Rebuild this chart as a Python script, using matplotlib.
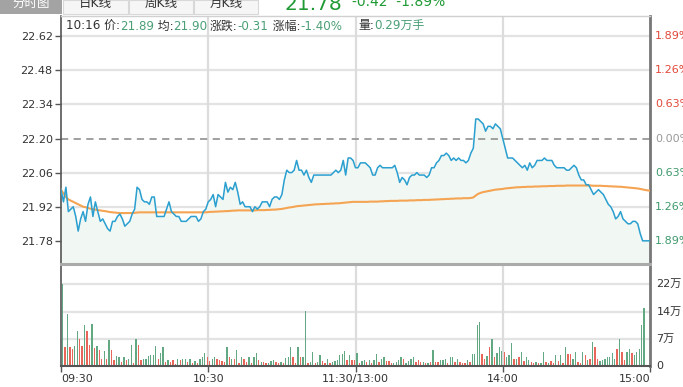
import numpy as np
import matplotlib
matplotlib.use("Agg")
import matplotlib.pyplot as plt
from matplotlib.patches import Rectangle

plt.rcParams['font.family'] = ['DejaVu Sans', 'Noto Sans CJK SC']

W, H = 683, 387
PREV_CLOSE = 22.20

# minute prices 09:30 .. 15:00 (241 points)
price = [
    21.99, 21.94, 22.00, 21.90, 21.91, 21.92, 21.88, 21.82, 21.87, 21.90,
    21.86, 21.93, 21.96, 21.88, 21.94, 21.90, 21.86, 21.87, 21.85, 21.83,
    21.82, 21.86, 21.86, 21.88, 21.89, 21.87, 21.84, 21.85, 21.86, 21.89,
    21.91, 22.00, 21.99, 21.95, 21.94, 21.94, 21.93, 21.96, 21.96, 21.88,
    21.88, 21.88, 21.88, 21.91, 21.94, 21.90, 21.89, 21.88, 21.88, 21.86,
    21.86, 21.86, 21.87, 21.88, 21.88, 21.88, 21.86, 21.87, 21.90, 21.91,
    21.94, 21.95, 21.97, 21.92, 21.97, 21.96, 21.95, 22.02, 21.98, 22.00,
    21.99, 22.02, 21.98, 21.93, 21.94, 21.92, 21.92, 21.92, 21.90, 21.92,
    21.91, 21.92, 21.94, 21.94, 21.94, 21.92, 21.95, 21.96, 21.96, 21.95,
    21.97, 22.03, 22.07, 22.06, 22.06, 22.07, 22.11, 22.07, 22.07, 22.05,
    22.07, 22.04, 22.02, 22.05, 22.05, 22.05, 22.05, 22.05, 22.05, 22.05,
    22.05, 22.06, 22.07, 22.06, 22.07, 22.11, 22.05, 22.12, 22.12, 22.11,
    22.08, 22.08, 22.10, 22.10, 22.10, 22.09, 22.08, 22.05, 22.05, 22.08,
    22.09, 22.08, 22.08, 22.08, 22.08, 22.08, 22.09, 22.06, 22.02, 22.04,
    22.03, 22.01, 22.04, 22.05, 22.05, 22.06, 22.05, 22.05, 22.05, 22.04,
    22.05, 22.08, 22.08, 22.10, 22.11, 22.13, 22.13, 22.14, 22.13, 22.11,
    22.12, 22.11, 22.12, 22.11, 22.11, 22.10, 22.11, 22.14, 22.16, 22.28,
    22.28, 22.27, 22.26, 22.23, 22.25, 22.25, 22.24, 22.26, 22.25, 22.24,
    22.20, 22.16, 22.12, 22.12, 22.12, 22.11, 22.10, 22.09, 22.08, 22.09,
    22.07, 22.10, 22.08, 22.09, 22.11, 22.11, 22.11, 22.12, 22.11, 22.11,
    22.11, 22.09, 22.08, 22.08, 22.08, 22.08, 22.07, 22.07, 22.08, 22.09,
    22.08, 22.05, 22.03, 22.03, 22.01, 22.01, 21.99, 21.97, 21.98, 21.99,
    21.98, 21.97, 21.95, 21.93, 21.92, 21.90, 21.87, 21.88, 21.90, 21.87,
    21.86, 21.85, 21.85, 21.86, 21.86, 21.85, 21.81, 21.78, 21.78, 21.78,
    21.78,
]

avg_price = [
    21.990, 21.975, 21.960, 21.950, 21.945, 21.940, 21.935, 21.930, 21.925, 21.920,
    21.918, 21.915, 21.912, 21.910, 21.908, 21.906, 21.905, 21.903, 21.902, 21.900,
    21.898, 21.897, 21.896, 21.895, 21.894, 21.894, 21.894, 21.894, 21.894, 21.894,
    21.895, 21.896, 21.897, 21.897, 21.897, 21.897, 21.897, 21.897, 21.897, 21.897,
    21.897, 21.897, 21.897, 21.897, 21.897, 21.897, 21.897, 21.897, 21.897, 21.897,
    21.897, 21.897, 21.897, 21.897, 21.897, 21.897, 21.897, 21.897, 21.897, 21.897,
    21.898, 21.899, 21.899, 21.900, 21.900, 21.901, 21.901, 21.902, 21.902, 21.903,
    21.904, 21.904, 21.905, 21.905, 21.905, 21.905, 21.905, 21.905, 21.905, 21.905,
    21.906, 21.906, 21.906, 21.906, 21.907, 21.907, 21.908, 21.908, 21.909, 21.910,
    21.911, 21.913, 21.915, 21.917, 21.918, 21.920, 21.922, 21.923, 21.924, 21.925,
    21.926, 21.927, 21.928, 21.929, 21.930, 21.930, 21.931, 21.931, 21.932, 21.932,
    21.933, 21.933, 21.934, 21.934, 21.935, 21.936, 21.937, 21.938, 21.939, 21.940,
    21.940, 21.940, 21.940, 21.940, 21.940, 21.940, 21.941, 21.941, 21.941, 21.941,
    21.942, 21.942, 21.943, 21.943, 21.944, 21.944, 21.944, 21.944, 21.945, 21.945,
    21.945, 21.945, 21.946, 21.946, 21.946, 21.947, 21.947, 21.947, 21.948, 21.948,
    21.948, 21.949, 21.949, 21.950, 21.950, 21.951, 21.951, 21.952, 21.952, 21.953,
    21.953, 21.954, 21.954, 21.954, 21.955, 21.955, 21.955, 21.956, 21.958, 21.966,
    21.973, 21.977, 21.980, 21.982, 21.984, 21.986, 21.988, 21.990, 21.991, 21.992,
    21.993, 21.995, 21.996, 21.997, 21.998, 21.999, 22.000, 22.000, 22.001, 22.001,
    22.002, 22.002, 22.002, 22.003, 22.003, 22.003, 22.004, 22.004, 22.004, 22.005,
    22.005, 22.005, 22.006, 22.006, 22.006, 22.006, 22.007, 22.007, 22.007, 22.007,
    22.007, 22.007, 22.007, 22.007, 22.007, 22.007, 22.007, 22.006, 22.006, 22.006,
    22.006, 22.005, 22.005, 22.004, 22.004, 22.003, 22.003, 22.002, 22.002, 22.001,
    22.000, 21.999, 21.998, 21.997, 21.996, 21.995, 21.993, 21.991, 21.989, 21.987,
    21.986,
]

# volume per minute, in 万 shares
volume = [
    22.0, 5.0, 13.9, 5.0, 4.7, 5.4, 9.3, 7.2, 5.4, 11.0,
    9.4, 5.6, 11.3, 4.9, 5.4, 4.3, 1.8, 4.0, 1.8, 7.0,
    4.3, 1.6, 2.7, 2.3, 1.2, 2.3, 1.6, 1.8, 5.6, 0.7,
    7.4, 5.6, 1.6, 1.8, 1.8, 2.7, 2.9, 2.9, 5.4, 2.0,
    3.4, 5.0, 1.2, 1.6, 1.2, 1.6, 0.5, 1.8, 1.6, 2.0,
    2.0, 1.2, 1.8, 0.7, 1.4, 0.7, 2.0, 2.5, 3.6, 2.3,
    1.3, 2.0, 2.5, 1.8, 1.6, 1.4, 1.2, 5.0, 2.3, 2.0,
    1.8, 4.3, 0.9, 2.5, 1.8, 1.2, 2.3, 0.9, 2.5, 3.4,
    1.6, 1.2, 1.2, 0.7, 0.9, 1.4, 1.6, 1.2, 0.7, 1.2,
    0.7, 2.2, 2.5, 5.0, 2.3, 0.7, 5.0, 2.3, 2.3, 14.8,
    0.7, 1.2, 3.7, 0.9, 1.2, 2.9, 1.4, 0.7, 2.0, 0.7,
    1.2,
    1.4, 1.6, 2.9, 3.2, 4.1, 1.6, 2.9, 1.6, 1.6, 3.4,
    0.9, 1.4, 1.6, 1.2, 1.6, 0.9, 1.6, 3.2, 1.2, 1.8,
    2.3, 1.4, 1.4, 0.7, 0.9, 1.2, 1.6, 2.3, 1.8, 0.9,
    1.4, 1.8, 2.3, 1.2, 1.6, 1.2, 1.2, 0.7, 0.7, 1.2,
    4.3, 1.2, 1.2, 1.6, 1.6, 2.0, 0.7, 2.3, 2.5, 1.2,
    1.8, 1.2, 0.7, 0.7, 1.6, 1.2, 3.2, 3.2, 11.0,
    11.9, 3.2, 2.0, 2.7, 5.0, 7.4, 2.5, 3.4, 5.0, 4.1,
    3.8, 2.3, 2.9, 6.3, 1.8, 2.0, 2.3, 3.8, 1.4, 2.5,
    1.6, 1.2, 0.9, 1.2, 0.9, 0.9, 3.8, 1.2, 0.9, 1.4,
    0.7, 2.9, 1.4, 2.9, 0.7, 5.0, 3.2, 3.2, 2.0, 3.8,
    1.2, 0.7, 3.8, 2.9, 1.6, 2.0, 6.5, 5.0, 2.0, 1.4,
    1.6, 2.0, 2.3, 2.3, 3.6,
    2.0, 4.7, 7.4, 3.8, 1.6, 3.8, 4.5, 3.4, 2.9, 3.8, 4.5,
    11.0, 15.5, 0.3, 0.3, 13.0,
]

# r = up bar, g = down bar
vol_dir = (
    "grgrrggrrg" "rrgrgrrgrg" "rrggrgrggr" "grrggggggr" "ggrgrrrgrg"
    "grgrgrgggr" "rggrrrrgrg" "rgrgrrgrgg" "rgrrgggrrg" "rgggrrgrgg"
    "rggrggrrgr" "g"
    "gggggrgrrg" "rggrgrggrg" "grrrggggrg" "gggrrrgrgr"
    "grrgggrggrgrrrgrggg" "grrgrgrggg" "rgggrgrgrg" "grrgrggrgr"
    "rgrgrgrrgg" "rrgrgrgrrg" "ggggg" "grgr" "rggrggg" "ggrrg"
)

price_ticks = [22.62, 22.48, 22.34, 22.20, 22.06, 21.92, 21.78]
time_ticks = [0, 60, 120, 180, 240]
time_labels = ['09:30', '10:30', '11:30/13:00', '14:00', '15:00']
vol_ticks = [0, 7.33, 14.67, 22.0]
vol_labels = ['0', '7万', '14万', '22万']

DARK = '#333333'
AXIS = '#555555'
GRID = '#e3e3e3'
UP = '#e2483a'
DOWN = '#3f9a6c'


def fx(px):
    return px / W


def fy(py):
    return 1 - py / H


fig = plt.figure(figsize=(W / 100, H / 100), dpi=100)
fig.patch.set_facecolor('white')

ax = fig.add_axes([fx(61), fy(263.5), fx(589), (263.5 - 15.7) / H])
ax2 = fig.add_axes([fx(61), fy(366), fx(589), (366 - 263.5) / H])

t = np.arange(len(price))
ylo, yhi = 21.687, 22.704

# --- price panel ---
for y in price_ticks:
    if y != PREV_CLOSE:
        ax.axhline(y, color=GRID, lw=1.6, zorder=0)
for x in time_ticks[1:-1]:
    ax.axvline(x, color='#dcdcdc', lw=1.6, zorder=0)
ax.fill_between(t, price, ylo, color='#f1f8f4', zorder=1)
ax.axhline(PREV_CLOSE, color='#999999', lw=1.3, ls=(0, (4, 3)), zorder=2)
ax.plot(t, avg_price, color='#f4a452', lw=1.5, zorder=3)
ax.plot(t, price, color='#2a9fd0', lw=1.1, zorder=4)

ax.set_xlim(0, 240)
ax.set_ylim(ylo, yhi)
ax.set_xticks([])
ax.set_yticks(price_ticks)
ax.set_yticklabels(['%.2f' % v for v in price_ticks])
ax.tick_params(axis='y', length=4, width=1, color=AXIS, labelsize=8,
               labelcolor=DARK, pad=2)
ax.spines['left'].set_color(AXIS)
ax.spines['left'].set_linewidth(1.2)
ax.spines['right'].set_color('#777777')
ax.spines['right'].set_linewidth(2)
ax.spines['top'].set_color('#d0d0d0')
ax.spines['top'].set_linewidth(1)
ax.spines['bottom'].set_visible(False)

ytrans = ax.get_yaxis_transform()
for y in price_ticks:
    pct = (y - PREV_CLOSE) / PREV_CLOSE * 100
    if abs(pct) < 0.001:
        col = '#999999'
    elif pct > 0:
        col = UP
    else:
        col = DOWN
    ax.text(1.0085, y, '%.2f%%' % abs(pct), transform=ytrans, color=col,
            fontsize=8, va='center', ha='left', clip_on=False)

# --- volume panel ---
for v in vol_ticks[1:]:
    ax2.axhline(v, color=GRID, lw=1.6, zorder=0)
for x in time_ticks[1:-1]:
    ax2.axvline(x, color='#dcdcdc', lw=1.6, zorder=0)
tv = np.arange(len(volume)) + 0.6
cols = ['#e9675a' if d == 'r' else '#62a882' for d in vol_dir[:len(volume)]]
ax2.bar(tv, volume, width=0.55, color=cols, linewidth=0, zorder=2)
ax2.set_xlim(0, 240)
ax2.set_ylim(0, 27.6)
ax2.set_yticks([])
ax2.set_xticks(time_ticks)
ax2.set_xticklabels(time_labels)
ax2.tick_params(axis='x', length=4, width=1, color=AXIS, labelsize=8,
                labelcolor=DARK, pad=2)
labels = ax2.get_xticklabels()
labels[0].set_ha('left')
labels[-1].set_ha('right')
ax2.spines['left'].set_color(AXIS)
ax2.spines['left'].set_linewidth(1.2)
ax2.spines['bottom'].set_color(AXIS)
ax2.spines['bottom'].set_linewidth(1.5)
ax2.spines['right'].set_color('#777777')
ax2.spines['right'].set_linewidth(2)
ax2.spines['top'].set_color('#aaaaaa')
ax2.spines['top'].set_linewidth(2.2)

vtrans = ax2.get_yaxis_transform()
for v, lab in zip(vol_ticks, vol_labels):
    ax2.text(1.011, v, lab, transform=vtrans, color=DARK, fontsize=8,
             va='center', ha='left', clip_on=False)

# --- top strip: tabs and quote ---
fig.add_artist(Rectangle((fx(0), fy(13.5)), fx(62), 13.5 / H,
                         transform=fig.transFigure, color='#a3a3a3', lw=0))
fig.text(fx(31), fy(3), '分时图', color='white', fontsize=9,
         ha='center', va='center')
for x0, x1, name in [(63, 128, '日K线'), (129, 193, '周K线'), (194, 258, '月K线')]:
    fig.add_artist(Rectangle((fx(x0), fy(13.5)), fx(x1 - x0), 13.5 / H,
                             transform=fig.transFigure, facecolor='#f6f6f6',
                             edgecolor='#d8d8d8', lw=0.8))
    fig.text(fx((x0 + x1) / 2), fy(3), name, color=DARK, fontsize=9,
             ha='center', va='center')
fig.text(fx(285), fy(10.5), '21.78', color='#1f9a34', fontsize=14.5,
         ha='left', va='baseline')
fig.text(fx(352), fy(6), '-0.42  -1.89%', color='#1f9a34', fontsize=10,
         ha='left', va='baseline')

# --- info row ---
renderer = fig.canvas.get_renderer()
GREEN_TXT = '#4a9f76'


def info(x, pieces):
    for s, c in pieces:
        txt = fig.text(fx(x), fy(29.5), s, color=c, fontsize=8.6,
                       ha='left', va='baseline')
        x += txt.get_window_extent(renderer).width


info(66, [('10:16 价:', DARK), ('21.89', GREEN_TXT), (' 均:', DARK),
          ('21.90', GREEN_TXT)])
info(210, [('涨跌:', DARK), ('-0.31', GREEN_TXT), (' 涨幅:', DARK),
           ('-1.40%', GREEN_TXT)])
info(358, [('量:', DARK), ('0.29万手', GREEN_TXT)])

fig.savefig('out.png', dpi=100)
